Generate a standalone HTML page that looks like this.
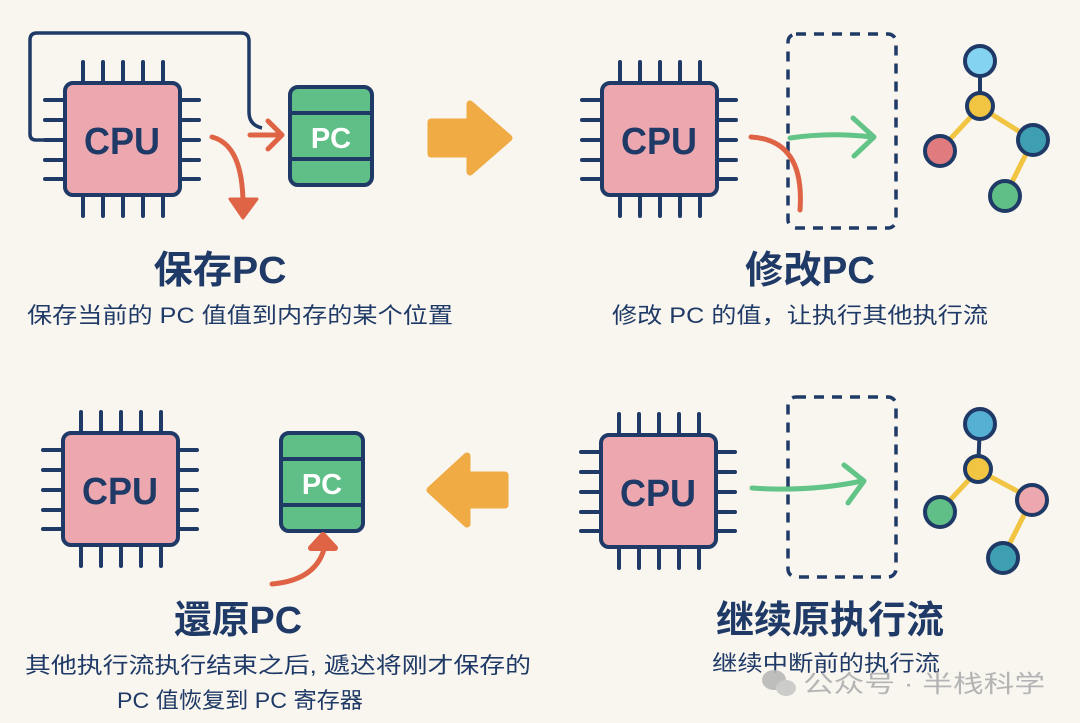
<!DOCTYPE html>
<html><head><meta charset="utf-8"><style>
html,body{margin:0;padding:0;background:#f9f6f0;}
svg{display:block;}
.t{font-family:"Liberation Sans","Noto Sans CJK SC",sans-serif;font-weight:bold;fill:#1f3a66;}
.s{font-family:"Liberation Sans","Noto Sans CJK SC",sans-serif;fill:#1f3a66;}
</style></head><body>
<svg width="1080" height="723" viewBox="0 0 1080 723" xmlns="http://www.w3.org/2000/svg">
<defs>
<g id="cpu">
 <g stroke="#1f3a66" stroke-width="4" stroke-linecap="round">
  <line x1="18" y1="-21" x2="18" y2="0"/><line x1="38" y1="-21" x2="38" y2="0"/><line x1="58" y1="-21" x2="58" y2="0"/><line x1="78" y1="-21" x2="78" y2="0"/><line x1="98" y1="-21" x2="98" y2="0"/>
  <line x1="18" y1="112" x2="18" y2="133"/><line x1="38" y1="112" x2="38" y2="133"/><line x1="58" y1="112" x2="58" y2="133"/><line x1="78" y1="112" x2="78" y2="133"/><line x1="98" y1="112" x2="98" y2="133"/>
  <line x1="-20" y1="17" x2="0" y2="17"/><line x1="-20" y1="37" x2="0" y2="37"/><line x1="-20" y1="57" x2="0" y2="57"/><line x1="-20" y1="77" x2="0" y2="77"/><line x1="-20" y1="96" x2="0" y2="96"/>
  <line x1="115" y1="17" x2="134" y2="17"/><line x1="115" y1="37" x2="134" y2="37"/><line x1="115" y1="57" x2="134" y2="57"/><line x1="115" y1="77" x2="134" y2="77"/><line x1="115" y1="96" x2="134" y2="96"/>
 </g>
 <rect x="0" y="0" width="115" height="112" rx="8" fill="#eca8ae" stroke="#1f3a66" stroke-width="4"/>
 <text x="57" y="71" text-anchor="middle" class="t" font-size="38" textLength="76" lengthAdjust="spacingAndGlyphs">CPU</text>
</g>
<g id="pc">
 <rect x="0" y="0" width="82" height="98" rx="8" fill="#5fbf87" stroke="#1f3a66" stroke-width="4"/>
 <line x1="0" y1="26" x2="82" y2="26" stroke="#1f3a66" stroke-width="4"/>
 <line x1="0" y1="72" x2="82" y2="72" stroke="#1f3a66" stroke-width="4"/>
 <text x="41" y="61" text-anchor="middle" font-family="Liberation Sans,sans-serif" font-weight="bold" font-size="29" fill="#fff">PC</text>
</g>
</defs>

<path d="M46 140 H36 Q30 140 30 134 V40 Q30 33 37 33 H241 Q249 33 249 41 V112 Q249 125 262 128" fill="none" stroke="#1f3a66" stroke-width="3.5"/>
<use href="#cpu" x="65" y="83"/>
<use href="#pc" x="290" y="87"/>
<line x1="250" y1="135" x2="278" y2="135" stroke="#df6446" stroke-width="5" stroke-linecap="round"/>
<polyline points="268,121 282,135 268,149" fill="none" stroke="#df6446" stroke-width="5" stroke-linecap="round" stroke-linejoin="round"/>
<path d="M212 137 Q243 145 243 205" fill="none" stroke="#df6446" stroke-width="5" stroke-linecap="round"/>
<polygon points="230,199 257,199 243,218" fill="#df6446" stroke="#df6446" stroke-width="3" stroke-linejoin="round"/>

<polygon points="431,122 470,122 470,104 509,138 470,172 470,154 431,154" fill="#f0ab45" stroke="#f0ab45" stroke-width="7" stroke-linejoin="round"/>

<use href="#cpu" x="602" y="83"/>
<rect x="788" y="34" width="108" height="194" rx="8" fill="none" stroke="#1f3a66" stroke-width="3.5" stroke-dasharray="10,8"/>
<path d="M790 138 Q830 132 872 137" fill="none" stroke="#62c486" stroke-width="5" stroke-linecap="round"/>
<polyline points="853,118 874,137 854,156" fill="none" stroke="#62c486" stroke-width="5" stroke-linecap="round" stroke-linejoin="round"/>
<path d="M751 137 Q805 140 800 210" fill="none" stroke="#df6446" stroke-width="5" stroke-linecap="round"/>
<g stroke="#f1c542" stroke-width="5"><line x1="980" y1="107" x2="940" y2="150"/><line x1="980" y1="107" x2="1033" y2="140"/><line x1="1033" y1="140" x2="1005" y2="196"/></g>
<line x1="980" y1="61" x2="980" y2="107" stroke="#1f3a66" stroke-width="4"/>
<g stroke="#1f3a66" stroke-width="4">
<circle cx="980" cy="61" r="15" fill="#84d3f0"/>
<circle cx="980" cy="106" r="13" fill="#f1c542"/>
<circle cx="940" cy="151" r="15" fill="#e07c80"/>
<circle cx="1033" cy="140" r="15" fill="#3e9eb2"/>
<circle cx="1005" cy="196" r="15" fill="#5fbf87"/>
</g>

<text x="220" y="283" text-anchor="middle" class="t" font-size="38" textLength="133" lengthAdjust="spacingAndGlyphs">保存PC</text>
<text x="240" y="323" text-anchor="middle" class="s" font-size="22" textLength="426" lengthAdjust="spacingAndGlyphs">保存当前的 PC 值值到内存的某个位置</text>
<text x="810" y="283" text-anchor="middle" class="t" font-size="38" textLength="130" lengthAdjust="spacingAndGlyphs">修改PC</text>
<text x="800" y="323" text-anchor="middle" class="s" font-size="22" textLength="376" lengthAdjust="spacingAndGlyphs">修改 PC 的值，让执行其他执行流</text>

<use href="#cpu" x="63" y="433"/>
<use href="#pc" x="281" y="433"/>
<path d="M272 584 Q318 580 325 545" fill="none" stroke="#df6446" stroke-width="5" stroke-linecap="round"/>
<polygon points="311,548 335,548 323,535" fill="#df6446" stroke="#df6446" stroke-width="6" stroke-linejoin="round"/>
<polygon points="505,475 467,475 467,456 430,490 467,524 467,505 505,505" fill="#f0ab45" stroke="#f0ab45" stroke-width="7" stroke-linejoin="round"/>

<use href="#cpu" x="601" y="435"/>
<rect x="788" y="397" width="108" height="180" rx="8" fill="none" stroke="#1f3a66" stroke-width="3.5" stroke-dasharray="10,8"/>
<path d="M752 488 Q810 492 862 481" fill="none" stroke="#62c486" stroke-width="5" stroke-linecap="round"/>
<polyline points="844,465 864,481 848,503" fill="none" stroke="#62c486" stroke-width="5" stroke-linecap="round" stroke-linejoin="round"/>
<g stroke="#f1c542" stroke-width="5"><line x1="978" y1="470" x2="940" y2="511"/><line x1="978" y1="470" x2="1032" y2="499"/><line x1="1032" y1="499" x2="1003" y2="557"/></g>
<line x1="980" y1="424" x2="978" y2="470" stroke="#1f3a66" stroke-width="4"/>
<g stroke="#1f3a66" stroke-width="4">
<circle cx="980" cy="424" r="15" fill="#56b0d4"/>
<circle cx="978" cy="469" r="13" fill="#f1c542"/>
<circle cx="940" cy="512" r="15" fill="#5fbf87"/>
<circle cx="1032" cy="500" r="15" fill="#eca8ae"/>
<circle cx="1003" cy="558" r="15" fill="#3e9eb2"/>
</g>

<text x="238" y="633" text-anchor="middle" class="t" font-size="38" textLength="128" lengthAdjust="spacingAndGlyphs">還原PC</text>
<text x="278" y="673" text-anchor="middle" class="s" font-size="22" textLength="506" lengthAdjust="spacingAndGlyphs">其他执行流执行结束之后, 遞迖将刚才保存的</text>
<text x="240" y="708" text-anchor="middle" class="s" font-size="22" textLength="246" lengthAdjust="spacingAndGlyphs">PC 值恢复到 PC 寄存器</text>
<text x="830" y="633" text-anchor="middle" class="t" font-size="38" textLength="228" lengthAdjust="spacingAndGlyphs">继续原执行流</text>
<text x="712" y="671" class="s" font-size="22" textLength="228" lengthAdjust="spacingAndGlyphs">继续中断前的执行流</text>

<g fill="#b8b8b8" opacity="0.9">
<ellipse cx="774" cy="680" rx="12" ry="10"/>
<ellipse cx="786" cy="688" rx="10" ry="8" fill="#c8c8c8"/>
</g>
<text x="803" y="692" font-family="Liberation Sans,'Noto Sans CJK SC',sans-serif" font-size="24" fill="#b4b4b4" textLength="242" lengthAdjust="spacingAndGlyphs">公众号 · 半栈科学</text>
</svg>
</body></html>
